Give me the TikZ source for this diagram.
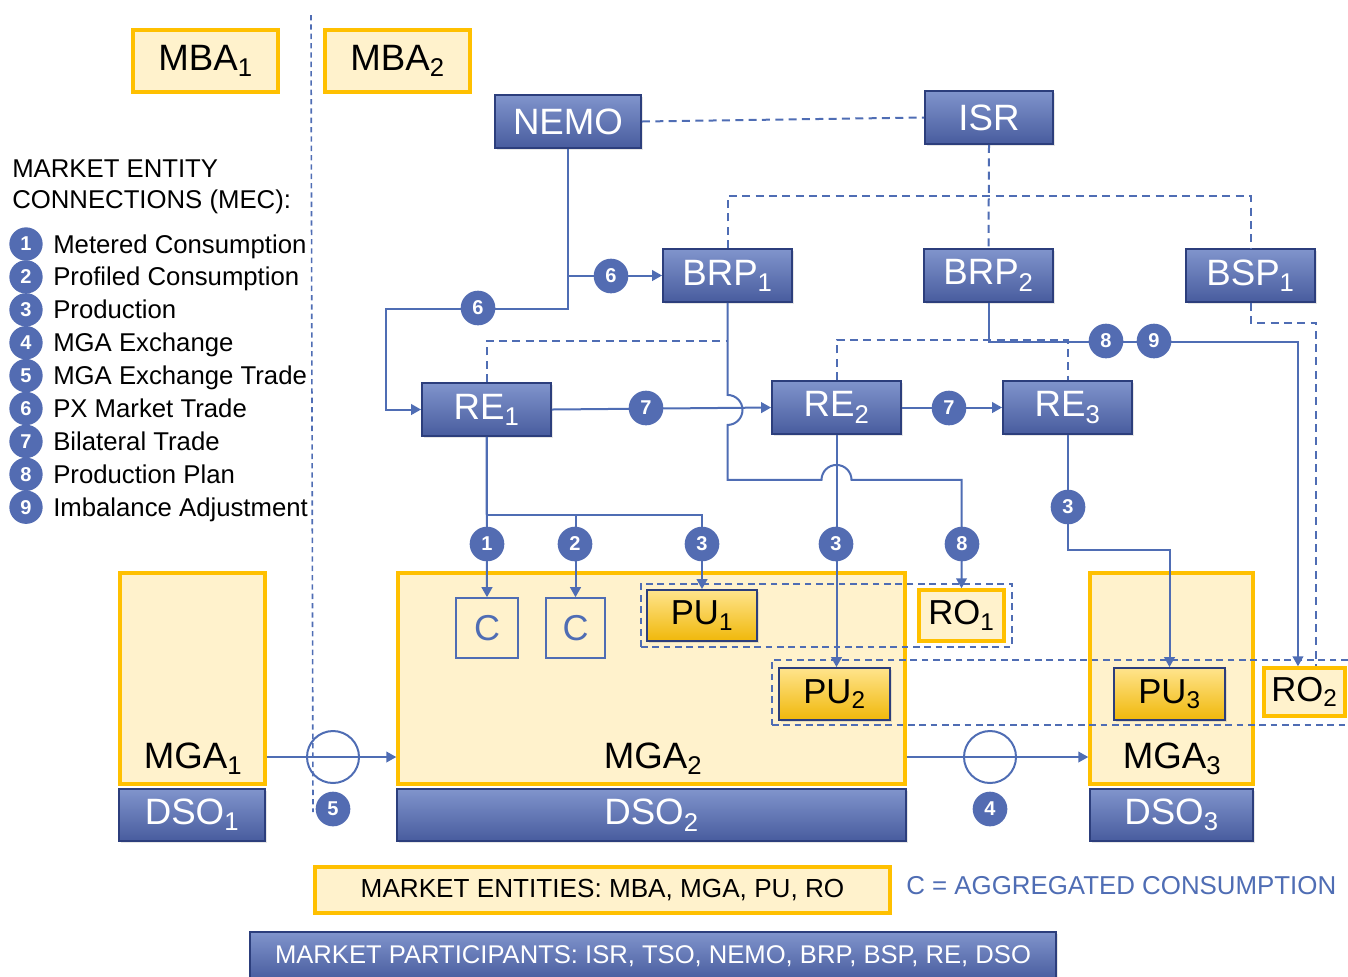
\documentclass[tikz,border=0pt]{standalone}
\usepackage{fontspec}
\setmainfont{Liberation Sans}
\usetikzlibrary{arrows.meta,shadows,calc}
\definecolor{lb}{RGB}{79,109,180}
\definecolor{bfill}{RGB}{83,108,178}
\definecolor{btop}{RGB}{128,148,204}
\definecolor{bbot}{RGB}{72,92,158}
\definecolor{bbord}{RGB}{44,62,124}
\definecolor{ly}{RGB}{255,242,204}
\definecolor{gold}{RGB}{255,192,0}
\definecolor{gtop}{RGB}{255,228,140}
\definecolor{gbot}{RGB}{240,184,10}
\newcommand\sbs[1]{\textsubscript{#1}}
\tikzset{
  sz/.style 2 args={minimum width={#1*0.75pt},minimum height={#2*0.75pt}},
  shd/.style={drop shadow={shadow xshift=1.2pt,shadow yshift=-1.5pt,opacity=0.2}},
  bluebox/.style={draw=bbord,line width=1.4pt,top color=btop,bottom color=bbot,text=white,inner sep=0pt,font=\fontsize{27.5}{30}\selectfont,shd},
  entbox/.style={draw=gold,line width=2.6pt,fill=ly,inner sep=0pt,text=black,font=\fontsize{27.5}{30}\selectfont},
  robox/.style={entbox,font=\fontsize{26}{28}\selectfont},
  gbox/.style={draw=bbord,line width=1.4pt,top color=gtop,bottom color=gbot,text=black,inner sep=0pt,font=\fontsize{26}{28}\selectfont,shd},
  cbox/.style={draw=lb,line width=1.2pt,inner sep=0pt,text=lb,font=\fontsize{27}{29}\selectfont},
  grp/.style={draw=lb,line width=1.2pt,dash pattern=on 5pt off 3.5pt,inner sep=0pt},
  ln/.style={draw=lb,line width=1.5pt},
  dsh/.style={draw=lb,line width=1.5pt,dash pattern=on 6pt off 4pt},
  arr/.style={-{Triangle[length=7.5pt,width=8pt]}},
  badge/.style={circle,fill=bfill,text=white,inner sep=0pt,minimum size=26pt,font=\bfseries\fontsize{15}{15}\selectfont},
  ring/.style={circle,draw=lb,line width=1.5pt,inner sep=0pt,minimum size=39pt},
  lbl/.style={text=black,inner sep=0pt,font=\fontsize{27.5}{30}\selectfont},
  legtxt/.style={text=black,inner sep=0pt,font=\fontsize{19.3}{22}\selectfont},
  divider/.style={draw=lb,line width=1.2pt,dash pattern=on 4pt off 3pt},
}
\begin{document}
\begin{tikzpicture}[x=0.75pt,y=-0.75pt]
\useasboundingbox (0,0) rectangle (1348,976);

% divider
\coordinate (dvtop) at (311,15);
\coordinate (dvbot) at (313,812);
\draw[divider] (dvtop) -- (dvbot);

% MBA boxes
\node[entbox,sz={145}{62}] (mba1) at (205.5,61) {MBA\sbs{1}};
\node[entbox,sz={145}{62}] (mba2) at (397.5,61) {MBA\sbs{2}};

% legend
\node[legtxt,anchor=base west] (tt1) at (12,177) {MARKET ENTITY};
\node[legtxt,anchor=base west] (tt2) at (12,208) {CONNECTIONS (MEC):};
\foreach \n/\t [count=\i from 0] in {1/Metered Consumption,2/Profiled Consumption,3/Production,4/MGA Exchange,5/MGA Exchange Trade,6/PX Market Trade,7/Bilateral Trade,8/Production Plan,9/Imbalance Adjustment}{
  \node[badge,minimum size=25pt] (lg\n) at (26,{244+32.9*\i}) {\n};
  \node[legtxt,anchor=base west] (lt\n) at (53,{253+32.9*\i}) {\t};
}

% market participants
\node[bluebox,sz={146}{53}] (nemo) at (568,121.5) {NEMO};
\node[bluebox,sz={128}{53}] (isr) at (989,117.5) {ISR};
\node[bluebox,sz={129}{53}] (brp1) at (727.5,275.5) {BRP\sbs{1}};
\node[bluebox,sz={129}{53}] (brp2) at (988.5,275.5) {BRP\sbs{2}};
\node[bluebox,sz={129}{53}] (bsp1) at (1250.5,275.5) {BSP\sbs{1}};
\node[bluebox,sz={129}{53}] (re1) at (486.5,409.5) {RE\sbs{1}};
\node[bluebox,sz={129}{53}] (re2) at (836.5,407.5) {RE\sbs{2}};
\node[bluebox,sz={129}{53}] (re3) at (1067.5,407.5) {RE\sbs{3}};

% MGA areas and DSOs
\node[entbox,sz={145}{211}] (mga1) at (192.5,678.5) {};
\node[entbox,sz={507}{211}] (mga2) at (651.5,678.5) {};
\node[entbox,sz={163}{211}] (mga3) at (1171.5,678.5) {};
\node[lbl,anchor=base] (mga1l) at (193,768) {MGA\sbs{1}};
\node[lbl,anchor=base] (mga2l) at (653,768) {MGA\sbs{2}};
\node[lbl,anchor=base] (mga3l) at (1172,768) {MGA\sbs{3}};
\node[bluebox,sz={146}{52}] (dso1) at (192,815) {DSO\sbs{1}};
\node[bluebox,sz={509}{52}] (dso2) at (651.5,815) {DSO\sbs{2}};
\node[bluebox,sz={163}{52}] (dso3) at (1171.5,815) {DSO\sbs{3}};

% dashed groups
\node[grp,sz={371}{63}] (g1) at (826.5,615.5) {};
\node[grp,sz={584}{65}] (g2) at (1064,692.5) {};

% units
\node[cbox,sz={62}{60}] (c1) at (487,628) {C};
\node[cbox,sz={59}{60}] (c2) at (575.5,628) {C};
\node[gbox,sz={110}{51}] (pu1) at (702,615.5) {PU\sbs{1}};
\node[robox,sz={85}{51}] (ro1) at (961.5,615.5) {RO\sbs{1}};
\node[gbox,sz={111}{52}] (pu2) at (834.5,694) {PU\sbs{2}};
\node[gbox,sz={111}{52}] (pu3) at (1169.5,694) {PU\sbs{3}};
\node[robox,sz={81}{48}] (ro2) at (1304.5,692) {RO\sbs{2}};

% dashed relations
\draw[dsh] (nemo.east) -- (isr.west);
\draw[dsh] (isr.south) -- (brp2.north);
\draw[dsh] (brp1.north) -- ++(0,-52) -| (bsp1.north);
\draw[dsh] (bsp1.south) -- ++(0,20) -| ([xshift=8.6pt]ro2.north);
\draw[dsh] (re1.north) -- ++(0,-41) coordinate (t1) -- (t1 -| brp1.south);
\draw[dsh] (re2.north) -- ++(0,-40) -| (re3.north);

% solid relations
\draw[ln,arr] (nemo.south) |- (brp1.west);
\draw[ln,arr] (nemo.south) -- ++(0,160) -- ++(-182,0) |- (re1.west);
\draw[ln,arr] (re1.east) -- (re2.west);
\draw[ln,arr] (re2.east) -- (re3.west);
\draw[ln,arr] (brp1.south) -- ++(0,92) arc[start angle=-90,end angle=90,radius=15] -- ++(0,55) -- ++(94,0) arc[start angle=180,end angle=360,radius=15] -| (ro1.north);
\draw[ln,arr] (brp2.south) -- ++(0,39) -| ([xshift=-4.9pt]ro2.north);
\draw[ln,arr] (re1.south) -- (c1.north);
\draw[ln,arr] (re1.south) -- ++(0,78) coordinate (t2) -| (pu1.north);
\draw[ln,arr] (t2 -| c2.north) -- (c2.north);
\draw[ln,arr] (re2.south) -- (re2.south |- pu2.north);
\draw[ln,arr] (re3.south) -- ++(0,115) -| (pu3.north);

% MGA exchanges
\node[ring] (ring5) at (333,757) {};
\node[ring] (ring4) at (990,757) {};
\draw[ln,arr] (mga1.east |- ring5) -- (mga2.west |- ring5);
\draw[ln,arr] (mga2.east |- ring4) -- (mga3.west |- ring4);

% badges
\node[badge] (b6a) at (611,276) {6};
\node[badge] (b6b) at (478,308) {6};
\node[badge] (b7a) at (646,408) {7};
\node[badge] (b7b) at (949,408) {7};
\node[badge] (b8a) at (1106,341) {8};
\node[badge] (b9) at (1154,341) {9};
\node[badge] (b1) at (487,544) {1};
\node[badge] (b2) at (575,544) {2};
\node[badge] (b3a) at (702,544) {3};
\node[badge] (b3b) at (836,544) {3};
\node[badge] (b8b) at (962,544) {8};
\node[badge] (b3c) at (1068,507) {3};
\node[badge] (b5) at (333,809) {5};
\node[badge] (b4) at (990,809) {4};

% bottom legends
\node[entbox,sz={575}{46},font=\fontsize{19.6}{22}\selectfont] (me) at (602.5,890) {MARKET ENTITIES: MBA, MGA, PU, RO};
\node[anchor=west,inner sep=0pt,text=lb,font=\fontsize{19.4}{22}\selectfont] (cdef) at (906,886) {C = AGGREGATED CONSUMPTION};
\node[bluebox,sz={806}{48},font=\fontsize{19.2}{22}\selectfont] (mp) at (653,956) {MARKET PARTICIPANTS: ISR, TSO, NEMO, BRP, BSP, RE, DSO};
\end{tikzpicture}
\end{document}
